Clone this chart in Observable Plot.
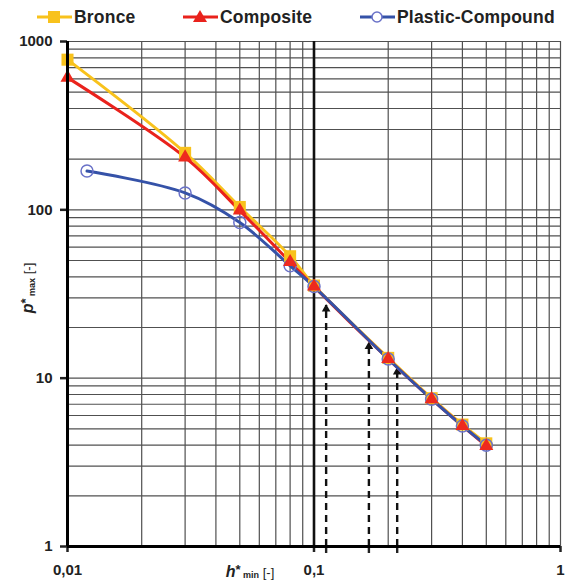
<!DOCTYPE html>
<html><head><meta charset="utf-8">
<script src="https://cdn.jsdelivr.net/npm/d3@7"></script>
<script src="https://cdn.jsdelivr.net/npm/@observablehq/plot@0.6"></script>
<style>
body{margin:0;background:#fff;font-family:"Liberation Sans",Arial,sans-serif;}
#wrap{position:relative;width:566px;height:583px;overflow:hidden;}
#legend{position:absolute;left:0;top:0;width:566px;height:32px;}
.item{position:absolute;top:6px;height:22px;display:flex;align-items:center;font-weight:bold;font-size:17.5px;letter-spacing:0.2px;color:#222;white-space:nowrap;}
.item svg{margin-right:2px;}
</style></head><body>
<div id="wrap"><div id="chart"></div><div id="legend"></div></div>
<script>
// ---- data ----
const hX = [0.01, 0.03, 0.05, 0.08, 0.1, 0.2, 0.3, 0.4, 0.5];
const bronce = [780, 218, 104, 53, 35.5, 13.2, 7.6, 5.3, 4.1];
const composite = [610, 205, 99, 49, 35, 13, 7.5, 5.2, 3.95];
const plasticX = [0.012, 0.03, 0.05, 0.08, 0.1, 0.2, 0.3, 0.4, 0.5];
const plastic = [170, 126, 84, 46.5, 35, 13, 7.5, 5.2, 4.0];
const arrowX = [0.112, 0.167, 0.2175];
const arrowTop = [27, 16.2, 11.4];
const xTicks = [0.01, 0.1, 1];
const xTickLabels = ["0,01", "0,1", "1"];
const yTicks = [1, 10, 100, 1000];
const yTickLabels = ["1", "10", "100", "1000"];
const gridX = [0.01,0.02,0.03,0.04,0.05,0.06,0.07,0.08,0.09,0.1,0.2,0.3,0.4,0.5,0.6,0.7,0.8,0.9,1];
const gridY = [1,2,3,4,5,6,7,8,9,10,20,30,40,50,60,70,80,90,100,200,300,400,500,600,700,800,900,1000];
const seriesNames = ["Bronce", "Composite", "Plastic-Compound"];
const seriesColors = ["#F8C21C", "#E9221C", "#3552A8"];
const markerColors = ["#F8C21C", "#EE2A1E", "#6A72C8"];

// ---- tables ----
const bronceData = hX.map((x, i) => ({x, y: bronce[i]}));
const compositeData = hX.map((x, i) => ({x, y: composite[i]}));
const plasticData = plasticX.map((x, i) => ({x, y: plastic[i]}));
const arrows = arrowX.map((x, i) => ({x, top: arrowTop[i]}));

const chart = Plot.plot({
  width: 566, height: 583,
  marginLeft: 67, marginRight: 6, marginTop: 41, marginBottom: 37,
  x: {type: "log", domain: [0.01, 1]},
  y: {type: "log", domain: [1, 1000]},
  style: {fontFamily: "Liberation Sans, Arial, sans-serif", fontSize: "15px", fontWeight: "bold", color: "#222", background: "#fff", overflow: "visible"},
  marks: [
    Plot.ruleX(gridX, {stroke: "#505050", strokeWidth: 1.2}),
    Plot.ruleY(gridY, {stroke: "#505050", strokeWidth: 1.2}),
    Plot.ruleX([0.1], {stroke: "#111", strokeWidth: 2.6}),
    Plot.ruleX(arrows, {x: "x", y1: 1, y2: "top", stroke: "#111", strokeWidth: 2.4, strokeDasharray: "7,5"}),
    Plot.dot(arrows, {x: "x", y: "top", symbol: "triangle", fill: "#111", r: 3.2, dy: 3.5}),
    Plot.line(bronceData, {x: "x", y: "y", stroke: seriesColors[0], strokeWidth: 3, curve: "catmull-rom"}),
    Plot.line(compositeData, {x: "x", y: "y", stroke: seriesColors[1], strokeWidth: 3, curve: "catmull-rom"}),
    Plot.line(plasticData, {x: "x", y: "y", stroke: seriesColors[2], strokeWidth: 3, curve: "catmull-rom"}),
    Plot.dot(bronceData, {x: "x", y: "y", symbol: "square", fill: markerColors[0], r: 6.8}),
    Plot.dot(plasticData, {x: "x", y: "y", symbol: "circle", fill: "none", stroke: markerColors[2], strokeWidth: 1.5, r: 6}),
    Plot.dot(compositeData, {x: "x", y: "y", symbol: "triangle", fill: markerColors[1], r: 5.2}),
    Plot.axisX({ticks: xTicks, tickFormat: d => xTickLabels[xTicks.indexOf(d)], tickSize: 6, tickPadding: 12, strokeWidth: 2.5, label: null}),
    Plot.axisX({ticks: arrowX, tickFormat: () => "", tickSize: 7, strokeWidth: 2.4, label: null}),
    Plot.axisY({ticks: yTicks, tickFormat: d => yTickLabels[yTicks.indexOf(d)], tickSize: 7, tickPadding: 8, strokeWidth: 2.5, label: null}),
    Plot.ruleX([0.01], {stroke: "#000", strokeWidth: 3}),
    Plot.ruleY([1], {stroke: "#000", strokeWidth: 3})
  ]
});
document.getElementById("chart").appendChild(chart);

// axis titles
const svg = d3.select(chart);
const yl = svg.append("text")
  .attr("transform", "translate(33,288) rotate(-90)")
  .attr("text-anchor", "middle").attr("fill", "#222").attr("font-weight", "bold");
yl.append("tspan").attr("font-style", "italic").attr("font-size", 16).text("p");
yl.append("tspan").attr("font-size", 13).attr("dy", -3).text("*");
yl.append("tspan").attr("font-size", 9).attr("dy", 5).text(" max");
yl.append("tspan").attr("font-size", 13).attr("dy", -2).attr("font-weight", "normal").text(" [-]");

const xl = svg.append("text")
  .attr("transform", "translate(250,577)")
  .attr("text-anchor", "middle").attr("fill", "#222").attr("font-weight", "bold");
xl.append("tspan").attr("font-style", "italic").attr("font-size", 16).text("h");
xl.append("tspan").attr("font-size", 13).attr("dy", -3).text("*");
xl.append("tspan").attr("font-size", 9).attr("dy", 4).text(" min");
xl.append("tspan").attr("font-size", 13).attr("dy", -1).attr("font-weight", "normal").text(" [-]");

// legend
const legend = document.getElementById("legend");
const lefts = [37, 183, 360];
const symbols = [
  c => `<rect x="11" y="5" width="12" height="12" fill="${c}"/>`,
  c => `<polygon points="17,4 24,16 10,16" fill="${c}"/>`,
  c => `<circle cx="17" cy="11" r="5" fill="#fff" stroke="${c}" stroke-width="1.5"/>`
];
seriesNames.forEach((name, i) => {
  const d = document.createElement("div");
  d.className = "item";
  d.style.left = lefts[i] + "px";
  const w = 35;
  d.innerHTML = `<svg width="${w}" height="22"><line x1="0" x2="${w}" y1="11" y2="11" stroke="${seriesColors[i]}" stroke-width="3"/>${symbols[i](i === 2 ? markerColors[2] : seriesColors[i])}</svg><span>${name}</span>`;
  legend.appendChild(d);
});
</script>
</body></html>
